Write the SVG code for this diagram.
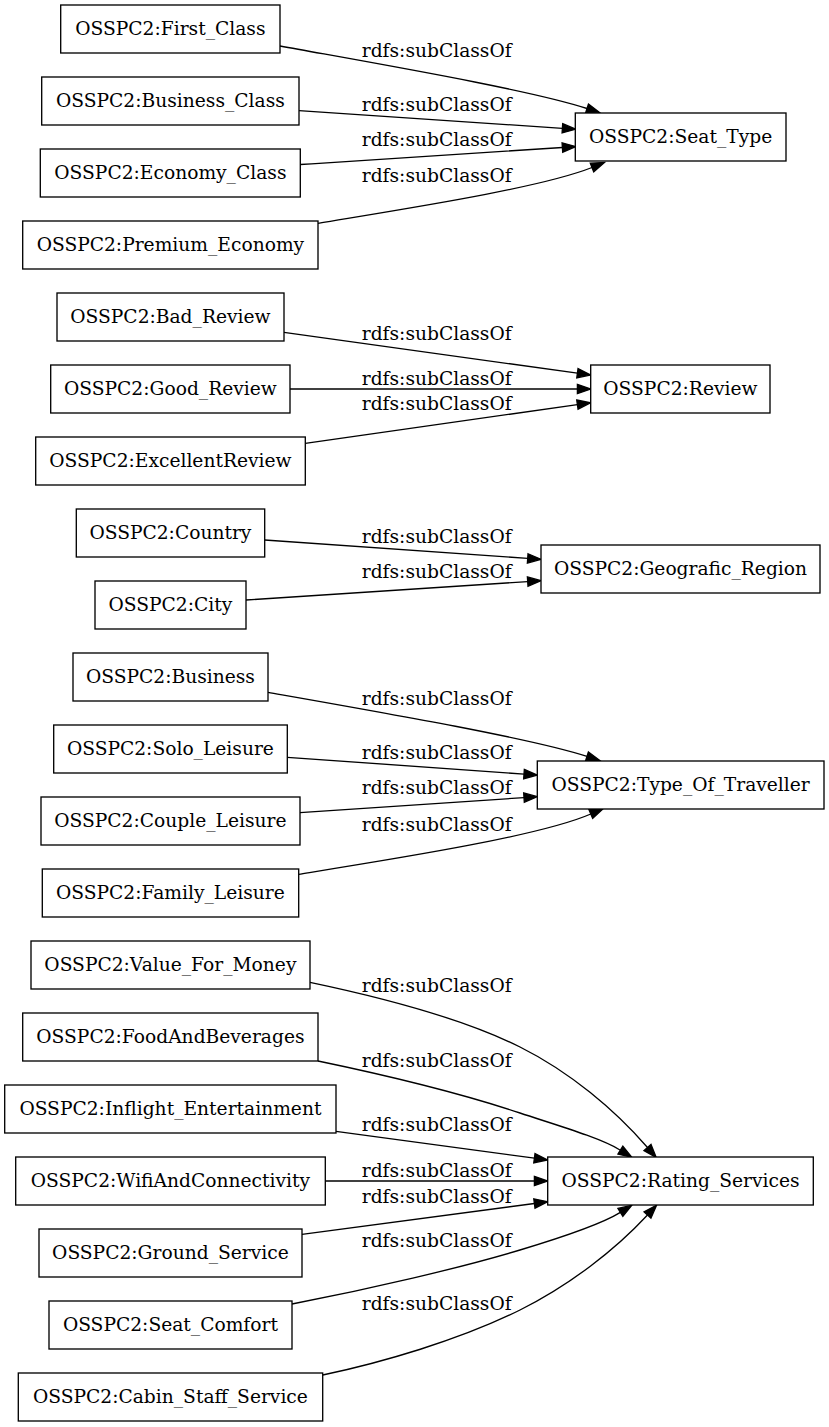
<svg xmlns="http://www.w3.org/2000/svg" width="829" height="1427" viewBox="0 0 829 1427">
<style>
.n rect{fill:#fff;stroke:#000;stroke-width:1.33}
text{font-family:"DejaVu Serif","Liberation Serif",serif;font-size:18.67px;fill:#000;text-anchor:middle}
.e path{fill:none;stroke:#000;stroke-width:1.33;marker-end:url(#arr)}
</style>
<defs>
<marker id="arr" viewBox="0 -5 14 10" refX="0" refY="0" markerUnits="userSpaceOnUse" markerWidth="14" markerHeight="10" orient="auto" overflow="visible">
<path d="M0,-4.67 L13.33,0 L0,4.67 Z" fill="#000" stroke="#000" stroke-width="1.33"/>
</marker>
</defs>
<rect x="0" y="0" width="829" height="1427" fill="#fff"/>
<g id="connectors" class="e">
<path d="M280,46 C390,66 530,90 587,108.5"/>
<path d="M299,110.7 C390,117 480,123 562.4,128.3"/>
<path d="M300.3,164.5 C390,159 480,153 562.4,147.5"/>
<path d="M318,223.3 C410,208 540,188 592,167.5"/>
<path d="M284,332.3 L577.4,373.2"/>
<path d="M290,389 L577.4,389"/>
<path d="M305.3,443.3 L577.4,404.6"/>
<path d="M264.7,540 L527.7,558.4"/>
<path d="M246,600 L527.7,581.6"/>
<path d="M268,692.3 C380,712 530,738 587,756.4"/>
<path d="M287.3,757.3 L524,774.1"/>
<path d="M300,812.7 L524,797.6"/>
<path d="M298.7,874.3 C400,858 540,836 590.8,814"/>
<path d="M310,982.3 C380,997 460,1017 520,1047 C570,1072 615,1110 647.5,1147.5"/>
<path d="M318,1061 C390,1076 460,1093 520,1113 C555,1124.7 600,1137.6 620.4,1150.2"/>
<path d="M336,1131.3 L534.4,1158.2"/>
<path d="M325.3,1181 L534.4,1181"/>
<path d="M302,1234.3 L534.4,1203.5"/>
<path d="M292,1304 C370,1289 460,1268 520,1250 C555,1239.5 600,1225 620.4,1212.4"/>
<path d="M322.7,1375 C380,1363 460,1340 520,1310 C570,1285 615,1250 647.5,1215"/>
<g id="edge-labels">
<text x="436.7" y="56.5">rdfs:subClassOf</text>
<text x="436.7" y="111">rdfs:subClassOf</text>
<text x="436.7" y="146">rdfs:subClassOf</text>
<text x="436.7" y="181.5">rdfs:subClassOf</text>
<text x="436.7" y="340">rdfs:subClassOf</text>
<text x="436.7" y="384.5">rdfs:subClassOf</text>
<text x="436.7" y="410">rdfs:subClassOf</text>
<text x="436.7" y="543">rdfs:subClassOf</text>
<text x="436.7" y="578">rdfs:subClassOf</text>
<text x="436.7" y="705">rdfs:subClassOf</text>
<text x="436.7" y="759">rdfs:subClassOf</text>
<text x="436.7" y="794">rdfs:subClassOf</text>
<text x="436.7" y="830.5">rdfs:subClassOf</text>
<text x="436.7" y="991.5">rdfs:subClassOf</text>
<text x="436.7" y="1066.5">rdfs:subClassOf</text>
<text x="436.7" y="1130.5">rdfs:subClassOf</text>
<text x="436.7" y="1176.5">rdfs:subClassOf</text>
<text x="436.7" y="1202.5">rdfs:subClassOf</text>
<text x="436.7" y="1247.3">rdfs:subClassOf</text>
<text x="436.7" y="1310">rdfs:subClassOf</text>
</g>
</g>
<g id="First_Class" class="n"><rect x="60.7" y="5" width="219.3" height="48"/><text x="170.4" y="34.6">OSSPC2:First_Class</text></g>
<g id="Business_Class" class="n"><rect x="41.7" y="77" width="257.3" height="48"/><text x="170.4" y="106.6">OSSPC2:Business_Class</text></g>
<g id="Economy_Class" class="n"><rect x="40.3" y="149" width="260" height="48"/><text x="170.4" y="178.6">OSSPC2:Economy_Class</text></g>
<g id="Premium_Economy" class="n"><rect x="22.7" y="221" width="295.3" height="48"/><text x="170.4" y="250.6">OSSPC2:Premium_Economy</text></g>
<g id="Seat_Type" class="n"><rect x="575.3" y="113" width="210.7" height="48"/><text x="680.6" y="142.6">OSSPC2:Seat_Type</text></g>
<g id="Bad_Review" class="n"><rect x="57" y="293" width="227" height="48"/><text x="170.4" y="322.6">OSSPC2:Bad_Review</text></g>
<g id="Good_Review" class="n"><rect x="50.7" y="365" width="239.3" height="48"/><text x="170.4" y="394.6">OSSPC2:Good_Review</text></g>
<g id="ExcellentReview" class="n"><rect x="35.7" y="437" width="269.6" height="48"/><text x="170.4" y="466.6">OSSPC2:ExcellentReview</text></g>
<g id="Review" class="n"><rect x="590.7" y="365" width="179.3" height="48"/><text x="680.4" y="394.6">OSSPC2:Review</text></g>
<g id="Country" class="n"><rect x="76.3" y="509" width="188.4" height="48"/><text x="170.4" y="538.6">OSSPC2:Country</text></g>
<g id="City" class="n"><rect x="95" y="581" width="151" height="48"/><text x="170.4" y="610.6">OSSPC2:City</text></g>
<g id="Geografic_Region" class="n"><rect x="541" y="545" width="279" height="48"/><text x="680.5" y="574.6">OSSPC2:Geografic_Region</text></g>
<g id="Business" class="n"><rect x="73" y="653" width="195" height="48"/><text x="170.4" y="682.6">OSSPC2:Business</text></g>
<g id="Solo_Leisure" class="n"><rect x="53.7" y="725" width="233.6" height="48"/><text x="170.4" y="754.6">OSSPC2:Solo_Leisure</text></g>
<g id="Couple_Leisure" class="n"><rect x="41" y="797" width="259" height="48"/><text x="170.4" y="826.6">OSSPC2:Couple_Leisure</text></g>
<g id="Family_Leisure" class="n"><rect x="42.3" y="869" width="256.4" height="48"/><text x="170.4" y="898.6">OSSPC2:Family_Leisure</text></g>
<g id="Type_Of_Traveller" class="n"><rect x="537.3" y="761" width="286.7" height="48"/><text x="680.6" y="790.6">OSSPC2:Type_Of_Traveller</text></g>
<g id="Value_For_Money" class="n"><rect x="31" y="941" width="279" height="48"/><text x="170.4" y="970.6">OSSPC2:Value_For_Money</text></g>
<g id="FoodAndBeverages" class="n"><rect x="22.7" y="1013" width="295.3" height="48"/><text x="170.4" y="1042.6">OSSPC2:FoodAndBeverages</text></g>
<g id="Inflight_Entertainment" class="n"><rect x="4.7" y="1085" width="331.3" height="48"/><text x="170.4" y="1114.6">OSSPC2:Inflight_Entertainment</text></g>
<g id="WifiAndConnectivity" class="n"><rect x="15.7" y="1157" width="309.6" height="48"/><text x="170.4" y="1186.6">OSSPC2:WifiAndConnectivity</text></g>
<g id="Ground_Service" class="n"><rect x="39" y="1229" width="263" height="48"/><text x="170.4" y="1258.6">OSSPC2:Ground_Service</text></g>
<g id="Seat_Comfort" class="n"><rect x="49" y="1301" width="243" height="48"/><text x="170.4" y="1330.6">OSSPC2:Seat_Comfort</text></g>
<g id="Cabin_Staff_Service" class="n"><rect x="18.3" y="1373" width="304.4" height="48"/><text x="170.4" y="1402.6">OSSPC2:Cabin_Staff_Service</text></g>
<g id="Rating_Services" class="n"><rect x="547.7" y="1157" width="265.6" height="48"/><text x="680.5" y="1186.6">OSSPC2:Rating_Services</text></g>
</svg>
